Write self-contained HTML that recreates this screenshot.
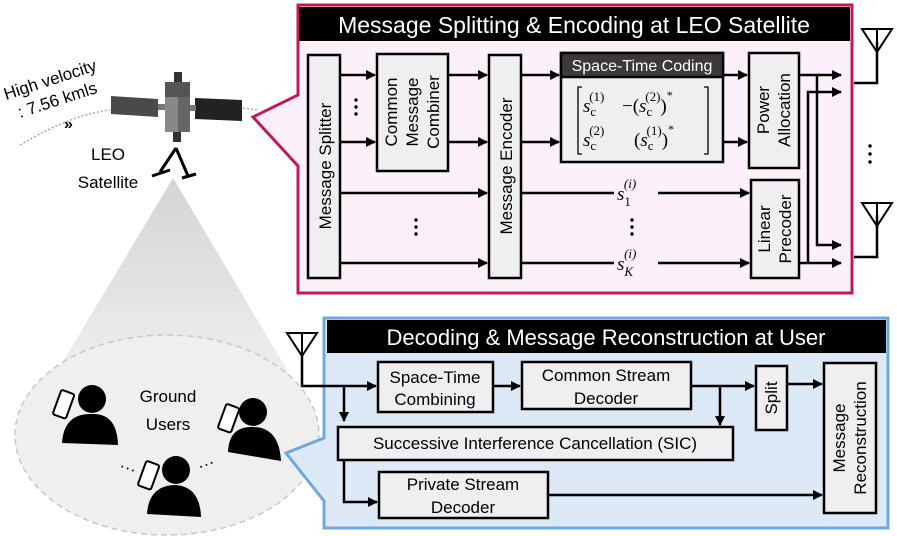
<!DOCTYPE html>
<html><head><meta charset="utf-8"><style>
html,body{margin:0;padding:0;background:#fff;}
svg{display:block;font-family:"Liberation Sans",sans-serif;}
.b{fill:#efefef;stroke:#000;stroke-width:2.5;}
.t{font-size:17px;fill:#000;}
.l{stroke:#000;stroke-width:2.5;fill:none;}
.m{font-family:"Liberation Serif",serif;font-style:italic;font-size:19px;}
</style></head><body>
<svg width="897" height="536" viewBox="0 0 897 536">
<defs>
<marker id="a" markerWidth="10" markerHeight="10" refX="9" refY="5" orient="auto" markerUnits="userSpaceOnUse"><path d="M0,0 L10,5 L0,10 z" fill="#000"/></marker>
<linearGradient id="cone" x1="0" y1="0" x2="0" y2="1"><stop offset="0" stop-color="#d4d4d4"/><stop offset="1" stop-color="#f2f2f2"/></linearGradient>
</defs>

<path d="M173,178 L40,400 L305,400 Z" fill="url(#cone)"/>
<ellipse cx="167" cy="435" rx="152" ry="100" fill="#efefef" stroke="#c8c8c8" stroke-width="1.5" stroke-dasharray="6,4"/>
<text x="168" y="402" text-anchor="middle" class="t" font-size="19">Ground</text>
<text x="168" y="430" text-anchor="middle" class="t" font-size="19">Users</text>
<g fill="#000">
<circle cx="92" cy="399" r="14"/><path d="M62,443 Q64,413 92,414 Q117,413 118,445 Z"/>
<rect x="57" y="391" width="14" height="26" rx="2" fill="#fff" stroke="#000" stroke-width="2" transform="rotate(20 63 403)"/>
<circle cx="253" cy="412" r="14"/><path d="M228,452 Q229,426 253,427 Q279,427 281,461 Z"/>
<rect x="222" y="405" width="14" height="26" rx="2" fill="#fff" stroke="#000" stroke-width="2" transform="rotate(20 228 417)"/>
<circle cx="176" cy="470" r="14"/><path d="M147,514 Q149,485 176,485 Q200,487 201,517 Z"/>
<rect x="142" y="462" width="14" height="26" rx="2" fill="#fff" stroke="#000" stroke-width="2" transform="rotate(20 148 474)"/>
</g>
<text x="118" y="470" class="t" font-size="22" transform="rotate(20 118 470)">···</text>
<text x="200" y="472" class="t" font-size="22" transform="rotate(-20 200 472)">···</text>

<path d="M20,145 Q70,115 110,110" stroke="#999" stroke-width="1.2" stroke-dasharray="2,2" fill="none"/>
<path d="M243,108 L257,110" stroke="#999" stroke-width="1.2" stroke-dasharray="2,2"/>
<text x="64" y="129" font-size="16" font-weight="bold">»</text>
<text x="6" y="100" class="t" font-size="17" transform="rotate(-18 6 100)">High velocity</text>
<text x="20" y="118" class="t" font-size="17" transform="rotate(-18 20 118)">: 7.56 kmls</text>
<polygon points="111,96 158,99 158,117 111,114" fill="#4a4a4a"/>
<polygon points="195,98 242,100 242,121 195,119" fill="#222"/>
<rect x="158" y="104" width="8" height="6" fill="#777"/>
<rect x="190" y="105" width="6" height="6" fill="#777"/>
<rect x="174" y="72" width="8" height="10" fill="#333"/>
<rect x="165" y="82" width="25" height="50" fill="#888"/>
<rect x="165" y="82" width="25" height="15" fill="#555"/>
<rect x="178" y="97" width="12" height="35" fill="#666"/>
<rect x="173" y="132" width="8" height="10" fill="#333"/>
<path d="M176,148 L160,172 M170,170 L152,176 M176,148 L188,176 M182,178 L196,174" stroke="#000" stroke-width="3" fill="none"/>
<text x="108" y="160" text-anchor="middle" class="t" font-size="20">LEO</text>
<text x="108" y="188" text-anchor="middle" class="t" font-size="20">Satellite</text>

<path d="M298,5 L852,5 L852,293 L298,293 L298,166 L253,117 L298,95 Z" fill="#fcf0fb" stroke="#c2185b" stroke-width="3"/>
<rect x="299" y="7" width="551" height="34" fill="#000"/>
<text x="574" y="33" text-anchor="middle" fill="#fff" font-size="23">Message Splitting &amp; Encoding at LEO Satellite</text>

<rect class="b" x="308" y="55" width="32" height="223"/>
<text class="t" font-size="18" transform="translate(331 166) rotate(-90)" text-anchor="middle">Message Splitter</text>
<rect class="b" x="377" y="54" width="71" height="117"/>
<g transform="translate(413 112) rotate(-90)" class="t" font-size="18" text-anchor="middle"><text x="0" y="-16">Common</text><text x="0" y="5">Message</text><text x="0" y="26">Combiner</text></g>
<rect class="b" x="489" y="55" width="32" height="223"/>
<text class="t" font-size="18" transform="translate(512 166) rotate(-90)" text-anchor="middle">Message Encoder</text>
<rect class="b" x="561" y="53" width="162" height="109"/>
<rect x="561" y="53" width="162" height="24" fill="#3a3a3a" stroke="#000" stroke-width="2.5"/>
<text x="642" y="71" text-anchor="middle" fill="#fff" font-size="16">Space-Time Coding</text>
<path d="M582,87 L578,87 L578,154 L582,154 M704,87 L708,87 L708,154 L704,154" stroke="#000" stroke-width="1.3" fill="none"/>
<text class="m" x="583" y="112">s<tspan font-style="normal" font-size="13" dy="4">c</tspan><tspan font-style="normal" font-size="13" dx="-7" dy="-15">(1)</tspan></text>
<text class="m" x="622" y="112"><tspan font-style="normal">−(</tspan>s<tspan font-style="normal" font-size="13" dy="4">c</tspan><tspan font-style="normal" font-size="13" dx="-7" dy="-15">(2)</tspan><tspan font-style="normal" dy="11">)</tspan><tspan font-style="normal" font-size="12" dy="-13">*</tspan></text>
<text class="m" x="583" y="146">s<tspan font-style="normal" font-size="13" dy="4">c</tspan><tspan font-style="normal" font-size="13" dx="-7" dy="-15">(2)</tspan></text>
<text class="m" x="634" y="146"><tspan font-style="normal">(</tspan>s<tspan font-style="normal" font-size="13" dy="4">c</tspan><tspan font-style="normal" font-size="13" dx="-7" dy="-15">(1)</tspan><tspan font-style="normal" dy="11">)</tspan><tspan font-style="normal" font-size="12" dy="-13">*</tspan></text>
<rect class="b" x="749" y="53" width="50" height="115"/>
<g transform="translate(774 110) rotate(-90)" class="t" font-size="18" text-anchor="middle"><text y="-5">Power</text><text y="16">Allocation</text></g>
<rect class="b" x="751" y="180" width="48" height="98"/>
<g transform="translate(775 229) rotate(-90)" class="t" font-size="18" text-anchor="middle"><text y="-5">Linear</text><text y="16">Precoder</text></g>

<g class="l">
<path d="M340,75 H375" marker-end="url(#a)"/><path d="M340,142 H375" marker-end="url(#a)"/>
<path d="M448,75 H487" marker-end="url(#a)"/><path d="M448,142 H487" marker-end="url(#a)"/>
<path d="M340,193 H487" marker-end="url(#a)"/><path d="M340,263 H487" marker-end="url(#a)"/>
<path d="M521,75 H559" marker-end="url(#a)"/><path d="M521,142 H559" marker-end="url(#a)"/>
<path d="M723,75 H747" marker-end="url(#a)"/><path d="M723,142 H747" marker-end="url(#a)"/>
<path d="M521,193 H614"/><path d="M658,193 H749" marker-end="url(#a)"/>
<path d="M521,263 H614"/><path d="M658,263 H749" marker-end="url(#a)"/>
<path d="M799,75 H841" marker-end="url(#a)"/>
<path d="M817,75 V245 H841" marker-end="url(#a)"/>
<path d="M799,263 H841" marker-end="url(#a)"/>
<path d="M808,263 V92 H841" marker-end="url(#a)"/>
<path d="M854,83 H877 V42 M854,257 H877 V215"/>
<path d="M862,29 L892,29 L877,52 Z M877,29 V52" stroke-width="2"/>
<path d="M862,203 L892,203 L877,226 Z M877,203 V226" stroke-width="2"/>
</g>
<text class="m" x="617" y="200">s<tspan font-style="normal" font-size="13" dy="6">1</tspan><tspan font-size="13" dx="-7" dy="-18">(i)</tspan></text>
<text class="m" x="617" y="270">s<tspan font-size="13" dy="6">K</tspan><tspan font-size="13" dx="-9" dy="-18">(i)</tspan></text>
<g fill="#000">
<circle cx="356" cy="100" r="1.7"/><circle cx="356" cy="107" r="1.7"/><circle cx="356" cy="114" r="1.7"/>
<circle cx="416" cy="220" r="1.7"/><circle cx="416" cy="227" r="1.7"/><circle cx="416" cy="234" r="1.7"/>
<circle cx="632" cy="220" r="1.7"/><circle cx="632" cy="227" r="1.7"/><circle cx="632" cy="234" r="1.7"/>
<circle cx="870" cy="146" r="1.7"/><circle cx="870" cy="154" r="1.7"/><circle cx="870" cy="162" r="1.7"/>
</g>

<path d="M324,318 L888,318 L888,528 L324,528 L324,501 L286,453 L324,438 Z" fill="#dde9f6" stroke="#6fa8dc" stroke-width="3"/>
<rect x="327" y="320" width="559" height="33" fill="#000"/>
<text x="606" y="345" text-anchor="middle" fill="#fff" font-size="22">Decoding &amp; Message Reconstruction at User</text>
<rect class="b" x="378" y="362" width="115" height="50"/>
<text class="t" x="435" y="383" text-anchor="middle">Space-Time</text><text class="t" x="435" y="405" text-anchor="middle">Combining</text>
<rect class="b" x="522" y="362" width="169" height="47"/>
<text class="t" x="606" y="381" text-anchor="middle">Common Stream</text><text class="t" x="606" y="404" text-anchor="middle">Decoder</text>
<rect class="b" x="756" y="366" width="31" height="64"/>
<text class="t" transform="translate(777 398) rotate(-90)" text-anchor="middle">Split</text>
<rect class="b" x="824" y="363" width="52" height="150"/>
<g transform="translate(850 438) rotate(-90)" class="t" text-anchor="middle"><text y="-5">Message</text><text y="16">Reconstruction</text></g>
<rect class="b" x="338" y="427" width="395" height="33"/>
<text class="t" x="535" y="449" text-anchor="middle">Successive Interference Cancellation (SIC)</text>
<rect class="b" x="379" y="472" width="169" height="46"/>
<text class="t" x="463" y="490" text-anchor="middle">Private Stream</text><text class="t" x="463" y="513" text-anchor="middle">Decoder</text>
<g class="l">
<path d="M302,355 V386 H376" marker-end="url(#a)"/>
<path d="M344,386 V421" marker-end="url(#a)"/>
<path d="M493,386 H520" marker-end="url(#a)"/>
<path d="M691,386 H754" marker-end="url(#a)"/>
<path d="M720,386 V425" marker-end="url(#a)"/>
<path d="M787,384 H822" marker-end="url(#a)"/>
<path d="M344,460 V502 H377" marker-end="url(#a)"/>
<path d="M548,495 H822" marker-end="url(#a)"/>
<path d="M287,333 L317,333 L302,356 Z M302,333 V356" stroke-width="2"/>
</g>
</svg>
</body></html>
